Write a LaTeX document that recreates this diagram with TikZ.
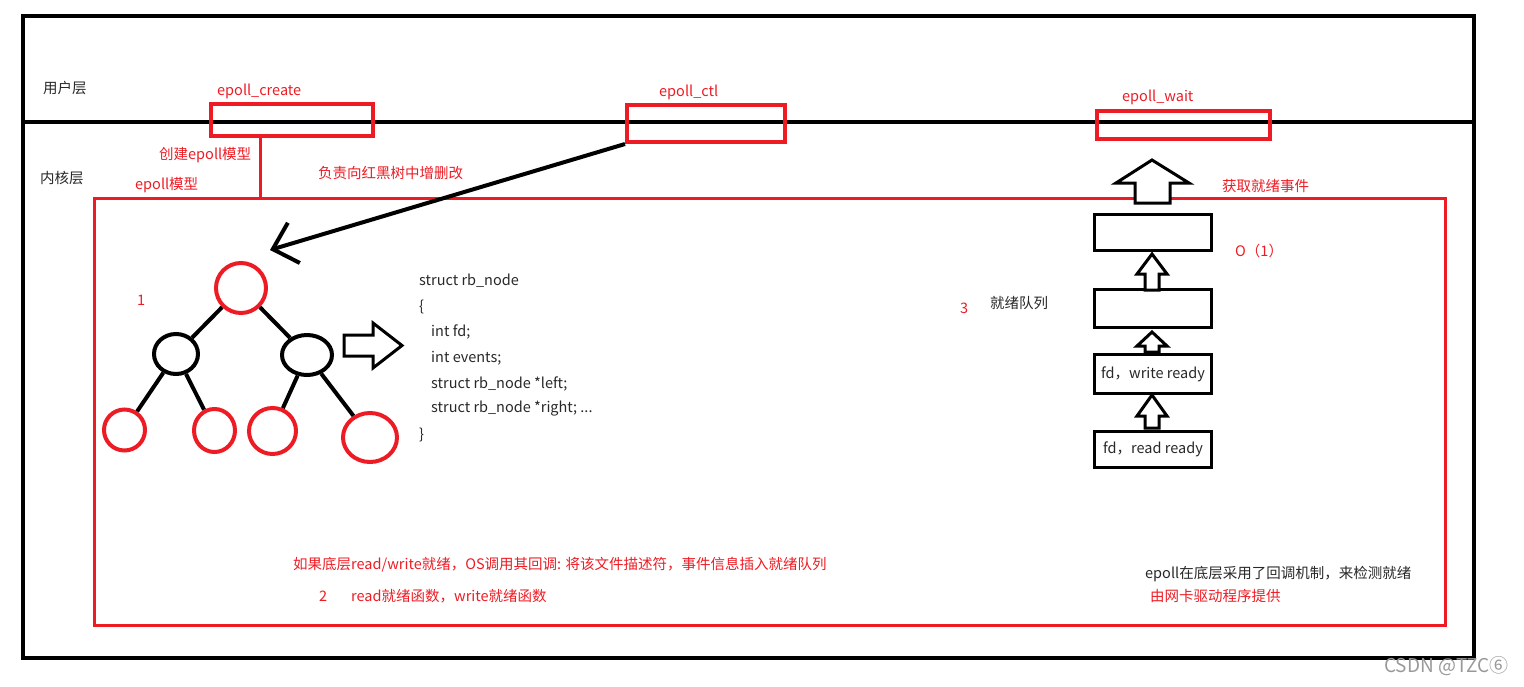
\documentclass[tikz,border=0pt]{standalone}
\usepackage{fontspec}
\setmainfont{Noto Sans CJK SC}
\usepackage{xcolor}
\usepackage{tikz}
\usetikzlibrary{shapes,arrows.meta}
\definecolor{paintred}{RGB}{237,28,36}
\definecolor{inktext}{RGB}{40,40,40}

\begin{document}
\begin{tikzpicture}[x=1pt, y=-1pt, font=\fontsize{14.5}{16}\selectfont,
    >={Straight Barb[length=22pt,width=42pt]}]
    \tikzstyle{callbox} = [rectangle, draw=paintred, line width=4pt, inner sep=0pt]
    \tikzstyle{label} = [anchor=west, inner sep=0pt, text=paintred]
    \tikzstyle{note} = [anchor=west, inner sep=0pt, text=inktext]
    \tikzstyle{rbred} = [ellipse, draw=paintred, line width=4pt, inner sep=0pt]
    \tikzstyle{rbblack} = [ellipse, draw, line width=4pt, inner sep=0pt]
    \tikzstyle{edge} = [draw, line width=4pt]
    \tikzstyle{queue} = [rectangle, draw, line width=3pt, minimum width=117pt,
        inner sep=0pt, text=inktext]
    \tikzstyle{hollow} = [draw, line width=3pt, line join=miter, fill=white]

    \useasboundingbox (0,0) rectangle (1524,686);

    % user / kernel frame
    \draw[line width=4pt] (23,16) rectangle (1474,658);
    \draw[line width=4pt] (23,122) -- (1474,122);
    \node [note] (user) at (43,88) {用户层};
    \node [note] (kernel) at (40,178) {内核层};

    % system calls
    \node [callbox, minimum width=162pt, minimum height=32pt] (create) at (292,120) {};
    \node [callbox, minimum width=158pt, minimum height=37pt] (ctl) at (706,123.5) {};
    \node [callbox, minimum width=173pt, minimum height=28pt] (wait) at (1183.5,125) {};
    \node [label] at (217,91) {epoll\_create};
    \node [label] at (659,92) {epoll\_ctl};
    \node [label] at (1122,97) {epoll\_wait};

    % epoll model
    \node [rectangle, draw=paintred, line width=3pt, minimum width=1351pt,
        minimum height=427pt] (model) at (770,412) {};
    \coordinate (stem) at (260,136);
    \draw [paintred, line width=3pt] (stem) -- (stem |- model.north);
    \node [label] at (159,155) {创建epoll模型};
    \node [label] at (135,185) {epoll模型};
    \node [label] at (318,173) {负责向红黑树中增删改};

    \coordinate (ctltip) at (270,250);
    \draw [->, line width=4pt] (ctl.south west) -- (ctltip);

    % red black tree
    \node [rbred, minimum width=50pt, minimum height=50pt] (root) at (241,288) {};
    \node [rbblack, minimum width=44pt, minimum height=40pt] (left) at (176,354) {};
    \node [rbblack, minimum width=50pt, minimum height=40pt] (right) at (307,355) {};
    \node [rbred, minimum width=41pt, minimum height=41pt] (leafa) at (124.5,430) {};
    \node [rbred, minimum width=41pt, minimum height=43pt] (leafb) at (214.5,430.5) {};
    \node [rbred, minimum width=47pt, minimum height=46pt] (leafc) at (272.5,431) {};
    \node [rbred, minimum width=54pt, minimum height=49pt] (leafd) at (370,437.5) {};
    \path [edge] (root) -- (left);
    \path [edge] (root) -- (right);
    \path [edge] (left) -- (leafa);
    \path [edge] (left) -- (leafb);
    \path [edge] (right) -- (leafc);
    \path [edge] (right) -- (leafd);
    \node [label] at (137,300) {1};

    \draw [hollow] (344,335) -- (373,335) -- (373,323) -- (402,345.5)
        -- (373,368) -- (373,356) -- (344,356) -- cycle;

    % rb_node struct
    \node [note] at (419,281) {struct rb\_node};
    \node [note] at (419,307) {\{};
    \node [note] at (431,332) {int fd;};
    \node [note] at (431,358) {int events;};
    \node [note] at (431,384) {struct rb\_node *left;};
    \node [note] at (431,409) {struct rb\_node *right; ...};
    \node [note] at (419,435) {\}};

    % ready queue
    \node [label] at (960,308) {3};
    \node [note] at (990,303) {就绪队列};
    \node [queue, minimum height=36pt] (qa) at (1153,232.5) {};
    \node [queue, minimum height=38pt] (qb) at (1153,308.5) {};
    \node [queue, minimum height=39pt] (qc) at (1153,374) {fd，write ready};
    \node [queue, minimum height=36pt] (qd) at (1153,449.5) {fd，read ready};

    \draw [hollow] (1152,160) -- (1189,183) -- (1170,183) -- (1170,203)
        -- (1135,203) -- (1135,183) -- (1116,183) -- cycle;
    \foreach \tip/\wing/\bot in {254/274/290, 332/346/352, 395/416/428}
        \draw [hollow] (1152,\tip) -- (1167,\wing) -- (1159,\wing) -- (1159,\bot)
            -- (1145,\bot) -- (1145,\wing) -- (1137,\wing) -- cycle;
    \node [label] at (1222,186) {获取就绪事件};
    \node [label] at (1235,251) {O（1）};

    % callbacks
    \node [label] at (293,565) {如果底层read/write就绪，OS调用其回调: 将该文件描述符，事件信息插入就绪队列};
    \node [label] at (319,596) {2};
    \node [label] at (351,596) {read就绪函数，write就绪函数};
    \node [note] at (1145,574) {epoll在底层采用了回调机制，来检测就绪};
    \node [label] at (1150,596) {由网卡驱动程序提供};

    \node [anchor=west, inner sep=0pt, text=black!40, font=\fontsize{19}{21}\selectfont]
        at (1384,666) {CSDN @TZC⑥};
\end{tikzpicture}
\end{document}
